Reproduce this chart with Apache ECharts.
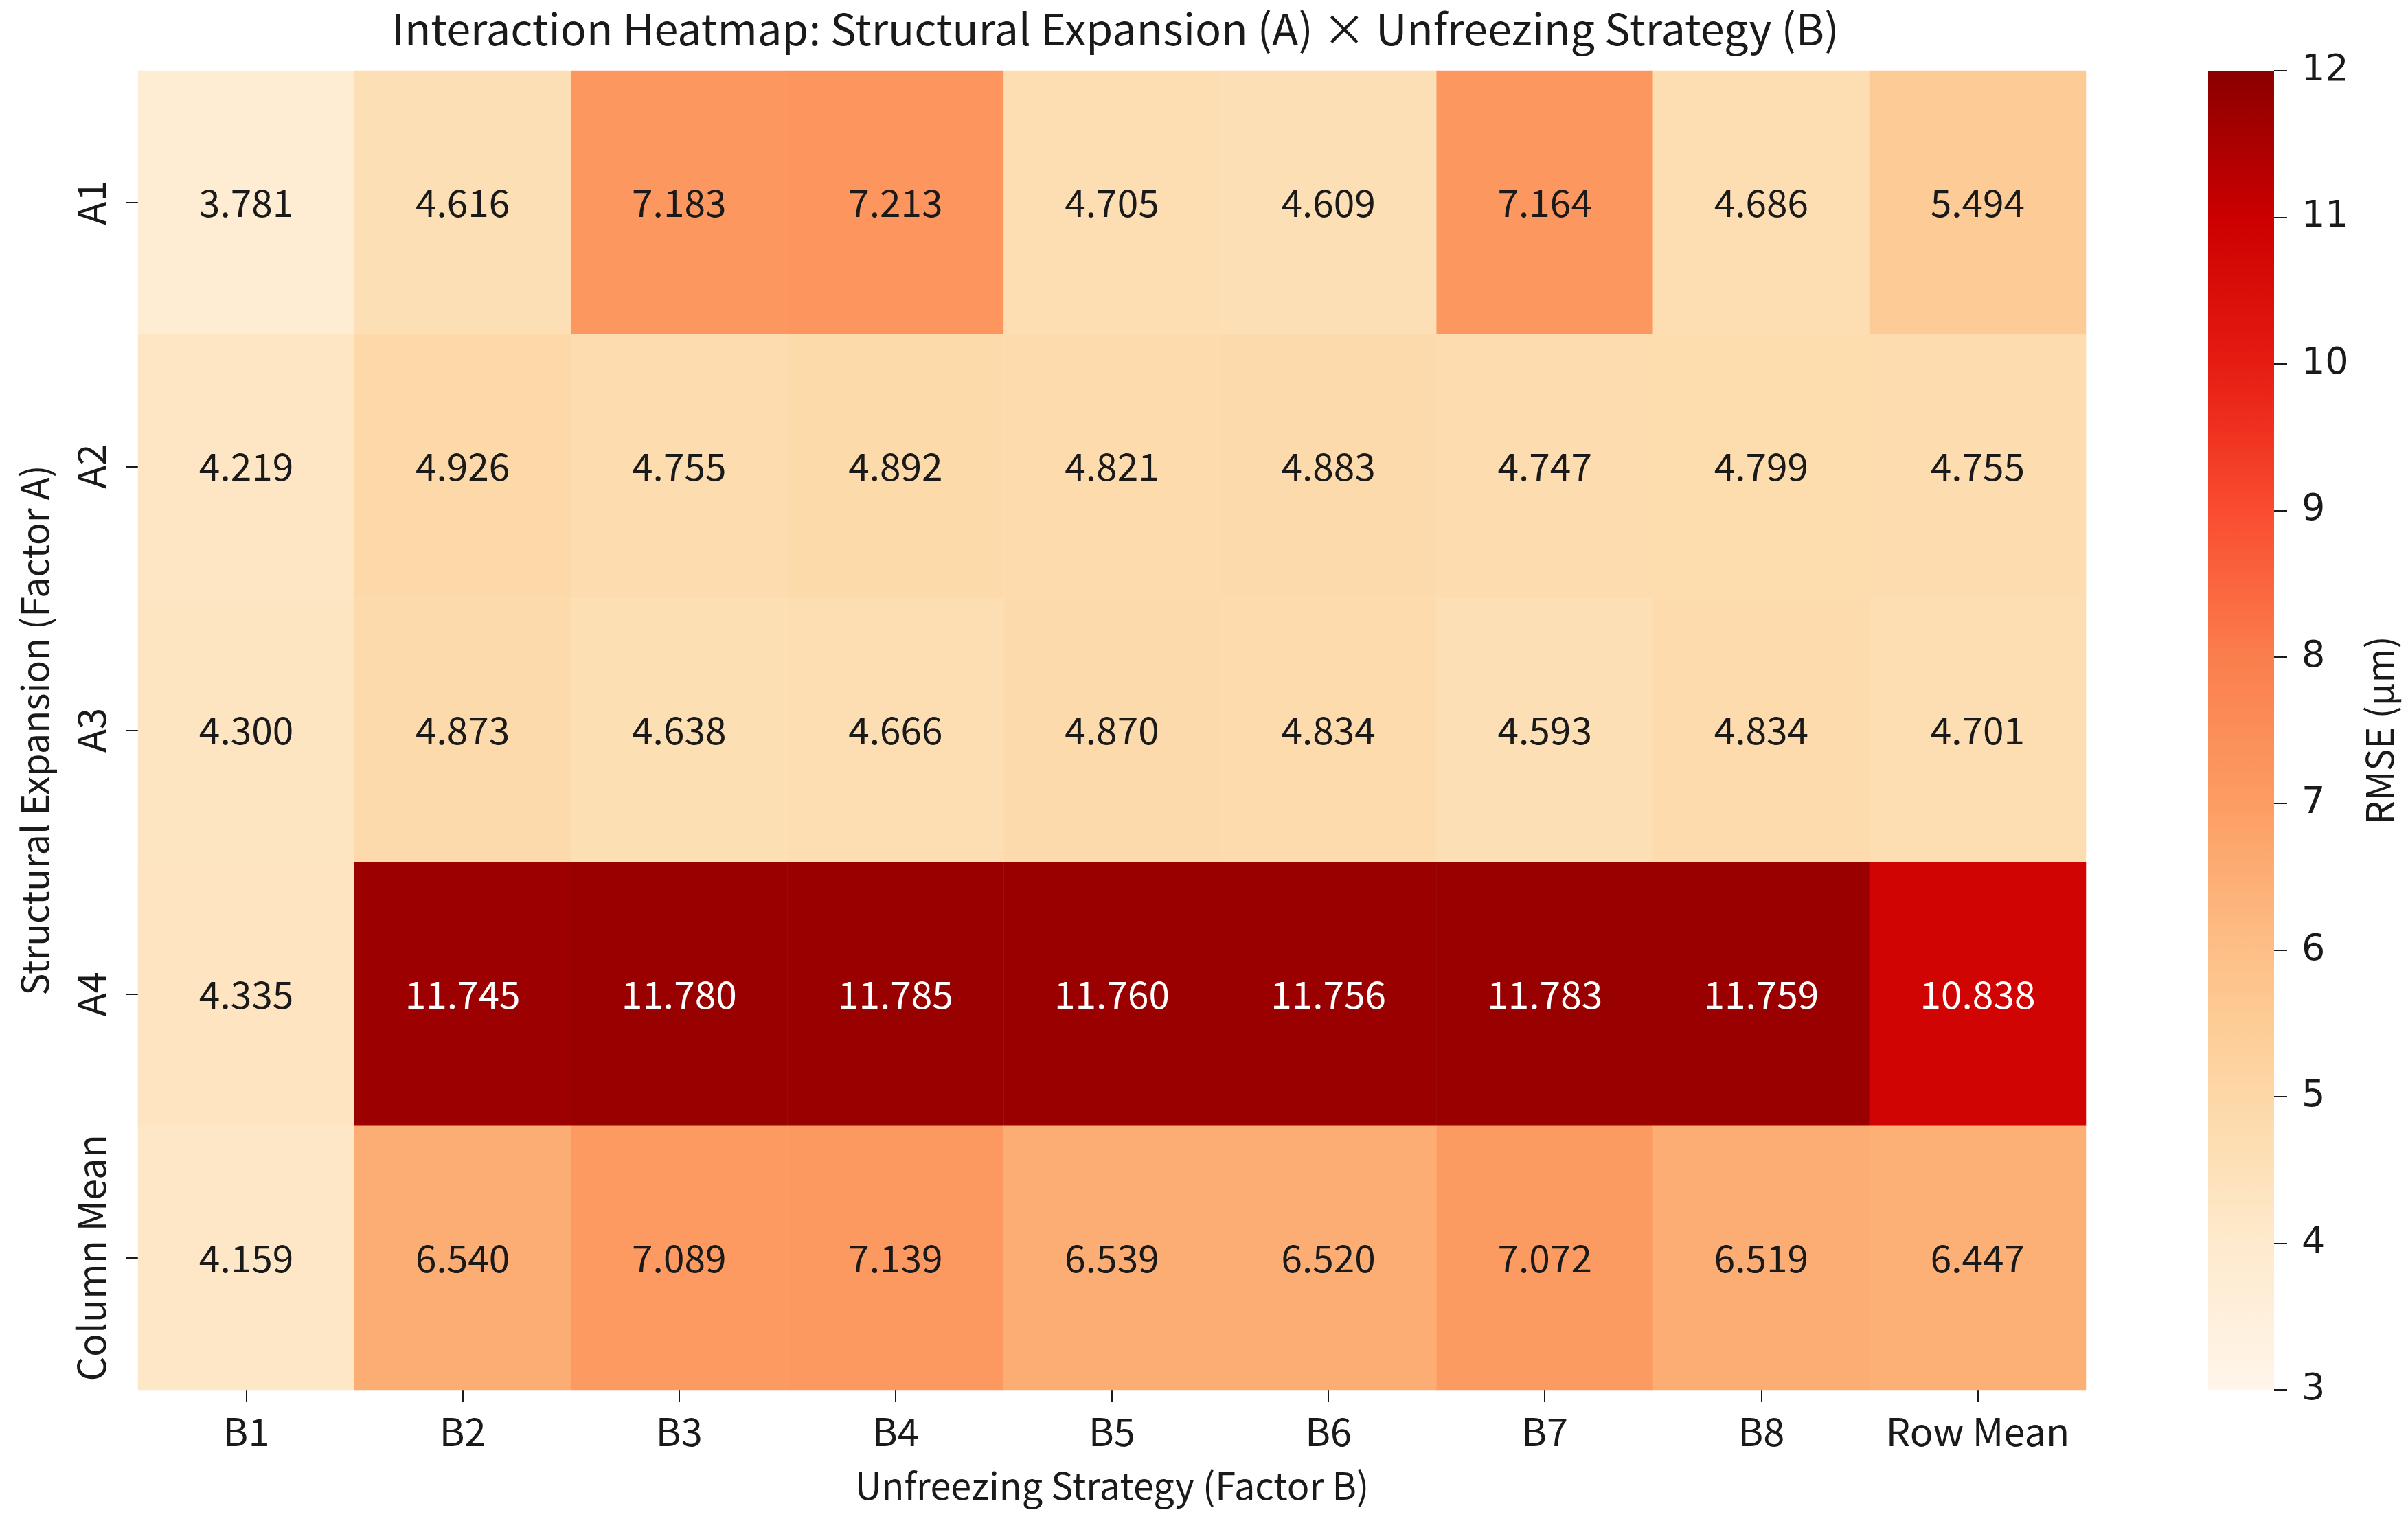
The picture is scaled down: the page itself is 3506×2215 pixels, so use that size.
<!DOCTYPE html>
<html>
<head>
<meta charset="utf-8">
<script src="https://cdn.jsdelivr.net/npm/echarts@6/dist/echarts.min.js"></script>
<style>html,body{margin:0;padding:0;background:#fff;}#c{width:3506px;height:2215px;}</style>
</head>
<body>
<div id="c"></div>
<script>
const rowLabels = ['A1', 'A2', 'A3', 'A4', 'Column Mean'];
const colLabels = ['B1', 'B2', 'B3', 'B4', 'B5', 'B6', 'B7', 'B8', 'Row Mean'];
const rowA1 = [3.781, 4.616, 7.183, 7.213, 4.705, 4.609, 7.164, 4.686, 5.494];
const rowA2 = [4.219, 4.926, 4.755, 4.892, 4.821, 4.883, 4.747, 4.799, 4.755];
const rowA3 = [4.300, 4.873, 4.638, 4.666, 4.870, 4.834, 4.593, 4.834, 4.701];
const rowA4 = [4.335, 11.745, 11.780, 11.785, 11.760, 11.756, 11.783, 11.759, 10.838];
const rowColumnMean = [4.159, 6.540, 7.089, 7.139, 6.539, 6.520, 7.072, 6.519, 6.447];
const colorMin = 3;
const colorMax = 12;
const colorTickInterval = 1;
const titleText = 'Interaction Heatmap: Structural Expansion (A) × Unfreezing Strategy (B)';
const xName = 'Unfreezing Strategy (Factor B)';
const yName = 'Structural Expansion (Factor A)';
const cbName = 'RMSE (μm)';

const rows = [rowA1, rowA2, rowA3, rowA4, rowColumnMean];
const rampColors = ['#fff5e9', '#feeacd', '#fdd8a6', '#fdbf86', '#fc9d63', '#fb7e4d', '#f94c30', '#e61c12', '#cc0000', '#8b0000'];

const FONT = '"Noto Sans CJK TC", "Noto Sans", sans-serif';
const TXT = '#1a1a1a';

const heatData = [];
rows.forEach((r, i) => {
  r.forEach((v, j) => {
    heatData.push({
      value: [j, i, v],
      label: { color: v > 9 ? '#ffffff' : TXT }
    });
  });
});

const gradStops = rampColors.map((c, k) => ({ offset: k / (rampColors.length - 1), color: c }));

const chart = echarts.init(document.getElementById('c'), null, { renderer: 'canvas' });
chart.setOption({
  backgroundColor: '#ffffff',
  animation: false,
  title: {
    text: titleText,
    left: 1619, textAlign: 'center',
    top: 6,
    textStyle: { fontFamily: FONT, fontSize: 63, fontWeight: 'normal', color: TXT }
  },
  grid: [
    { left: 201, top: 103, width: 2836, height: 1921 },
    { left: 3215, top: 103, width: 96, height: 1921 }
  ],
  xAxis: [
    {
      type: 'category', gridIndex: 0, data: colLabels, position: 'bottom',
      axisLine: { show: false },
      axisTick: { show: true, alignWithLabel: true, length: 18, lineStyle: { color: TXT, width: 2 } },
      axisLabel: { fontFamily: FONT, fontSize: 56, color: TXT, margin: 33, interval: 0 },
      splitLine: { show: false },
      name: xName, nameLocation: 'middle', nameGap: 112,
      nameTextStyle: { fontFamily: FONT, fontSize: 54, color: TXT }
    },
    {
      type: 'category', gridIndex: 1, data: ['cb'], show: false
    }
  ],
  yAxis: [
    {
      type: 'category', gridIndex: 0, data: rowLabels, inverse: true,
      axisLine: { show: false },
      axisTick: { show: true, alignWithLabel: true, length: 18, lineStyle: { color: TXT, width: 2 } },
      axisLabel: { fontFamily: FONT, fontSize: 56, color: TXT, rotate: 90, margin: 40, interval: 0 },
      splitLine: { show: false },
      name: yName, nameLocation: 'middle', nameGap: 124, nameRotate: 90,
      nameTextStyle: { fontFamily: FONT, fontSize: 54, color: TXT }
    },
    {
      type: 'value', gridIndex: 1, min: colorMin, max: colorMax, interval: colorTickInterval,
      position: 'right',
      axisLine: { show: false },
      axisTick: { show: true, length: 19, lineStyle: { color: TXT, width: 2 } },
      axisLabel: { fontFamily: '"DejaVu Sans", sans-serif', fontSize: 54, color: TXT, margin: 40 },
      splitLine: { show: false },
      name: cbName, nameLocation: 'middle', nameGap: 126, nameRotate: 90,
      nameTextStyle: { fontFamily: FONT, fontSize: 54, color: TXT }
    }
  ],
  visualMap: {
    type: 'continuous', show: false, min: colorMin, max: colorMax,
    dimension: 2, seriesIndex: 0,
    inRange: { color: rampColors }
  },
  series: [
    {
      type: 'heatmap', xAxisIndex: 0, yAxisIndex: 0,
      data: heatData,
      itemStyle: { borderWidth: 0 },
      label: {
        show: true, fontFamily: FONT, fontSize: 55,
        formatter: p => p.value[2].toFixed(3)
      },
      emphasis: { disabled: true }
    },
    {
      type: 'custom', xAxisIndex: 1, yAxisIndex: 1,
      data: [[0, colorMin, colorMax]],
      renderItem: (params, api) => {
        const top = api.coord([api.value(0), api.value(2)]);
        const bot = api.coord([api.value(0), api.value(1)]);
        const w = api.size([1, 0])[0];
        return {
          type: 'rect',
          shape: { x: top[0] - w / 2, y: top[1], width: w, height: bot[1] - top[1] },
          style: {
            fill: { type: 'linear', x: 0, y: 1, x2: 0, y2: 0, colorStops: gradStops }
          }
        };
      },
      silent: true
    }
  ]
});
</script>
</body>
</html>
